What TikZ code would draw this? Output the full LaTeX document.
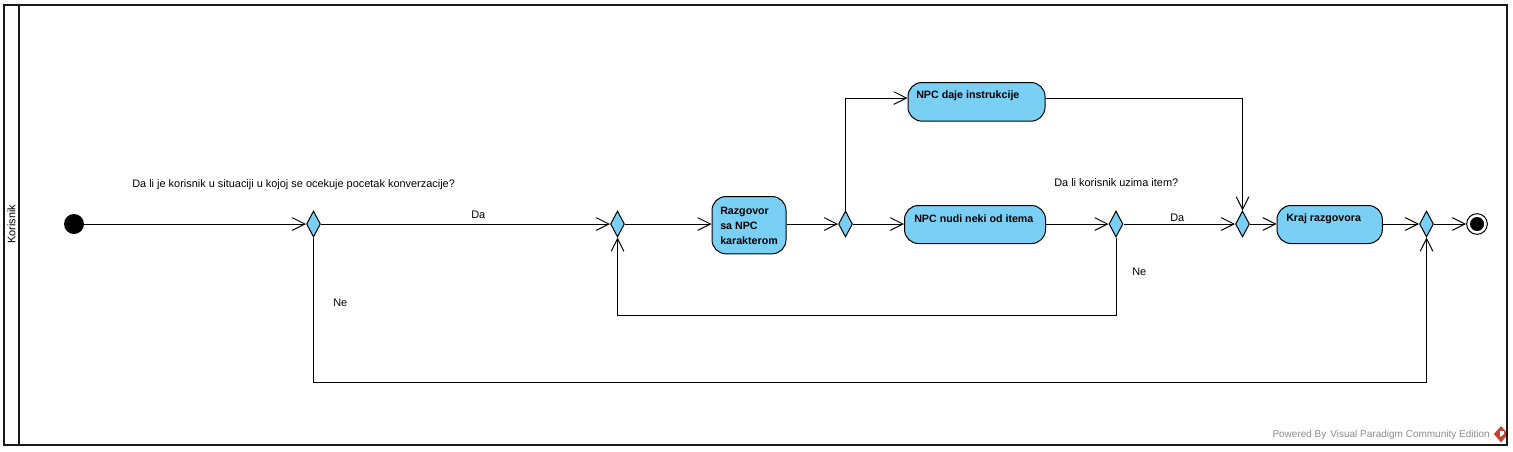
\documentclass[tikz,border=0pt]{standalone}
\usepackage{fontspec}
\setmainfont{Liberation Sans}
\usetikzlibrary{shapes.geometric,arrows.meta}
\definecolor{actblue}{HTML}{7ACFF5}
\definecolor{wmgrey}{HTML}{8C8C8C}
\definecolor{wmred}{HTML}{C8402F}
\tikzset{
  x=0.75pt,y=-0.75pt,
  frameline/.style={draw=black!90,line width=1.7pt},
  actbox/.style={draw=black,fill=actblue,rounded corners=10.5pt,line width=0.75pt,inner sep=0pt,anchor=north west},
  acttext/.style={font=\bfseries\fontsize{8}{11.25}\selectfont,align=left,anchor=west,inner sep=0pt},
  gate/.style={shape=diamond,draw=black,fill=actblue,line width=0.75pt,inner sep=0pt,minimum width=10.5pt,minimum height=19.5pt},
  lbl/.style={font=\fontsize{8.2}{10}\selectfont,anchor=west,inner sep=0pt},
  wmtext/.style={font=\fontsize{7.5}{9}\selectfont,anchor=east,inner sep=0pt,text=wmgrey},
  flow/.style={draw=black,line width=0.75pt,-{Straight Barb[length=9.5pt,width=9.5pt,line width=0.75pt]}}
}
\begin{document}
\begin{tikzpicture}
\useasboundingbox (0,0) rectangle (1513,451);
\fill[white] (0,0) rectangle (1513,451);
% frame
\draw[frameline] (4,5) rectangle (1507,445);
\draw[frameline] (19,5) -- (19,445);
\node[rotate=90,font=\fontsize{8.2}{10}\selectfont,inner sep=0pt] (lane) at (11.5,224) {Korisnik};
% start / end
\node[circle,fill=black,minimum size=15pt,inner sep=0pt] (start) at (74,224) {};
\node[circle,draw=black,fill=white,line width=0.75pt,minimum size=15.5pt,inner sep=0pt] (final) at (1477,224) {};
\node[circle,fill=black,minimum size=10.5pt,inner sep=0pt] (finalin) at (1477,224) {};
% gates
\node[gate] (d1) at (313.5,224) {};
\node[gate] (d2) at (617.5,224) {};
\node[gate] (d3) at (845.5,224) {};
\node[gate] (d4) at (1116,224) {};
\node[gate] (d5) at (1242.5,224) {};
\node[gate] (d6) at (1426.5,224) {};
% activities
\node[actbox,minimum width=55.5pt,minimum height=43pt] (raz) at (711.5,196) {};
\node[actbox,minimum width=105.75pt,minimum height=28.5pt] (nudi) at (904,205) {};
\node[actbox,minimum width=102.75pt,minimum height=29pt] (daje) at (907.5,82) {};
\node[actbox,minimum width=79pt,minimum height=28.5pt] (kraj) at (1276.5,205) {};
\node[acttext] (trz) at (720,225.5) {Razgovor\\sa NPC\\karakterom};
\node[acttext] (tnu) at (914,219) {NPC nudi neki od itema};
\node[acttext] (tda) at (916,96) {NPC daje instrukcije};
\node[acttext] (tkr) at (1286,219) {Kraj razgovora};
% waypoints
\coordinate (c1) at (313.5,382);
\coordinate (c2) at (1426.5,382);
\coordinate (c3) at (1116,315);
\coordinate (c4) at (617.5,315);
\coordinate (c5) at (845.5,98);
\coordinate (c6) at (1242.5,98);
% connectors
\draw[flow] (start) -- (d1);
\draw[flow] (d1) -- (d2);
\draw[flow] (d2) -- (raz.west |- d2);
\draw[flow] (raz.east |- d3) -- (d3);
\draw[flow] (d3) -- (nudi.west |- d3);
\draw[flow] (nudi.east |- d4) -- (d4);
\draw[flow] (d4) -- (d5);
\draw[flow] (d5) -- (kraj.west |- d5);
\draw[flow] (kraj.east |- d6) -- (d6);
\draw[flow] (d6) -- (final);
\draw[flow] (d3.north) -- (c5) -- (daje.west |- c5);
\draw[flow] (daje.east |- c6) -- (c6) -- (d5.north);
\draw[flow] (d4.south) -- (c3) -- (c4) -- (d2.south);
\draw[flow] (d1.south) -- (c1) -- (c2) -- (d6.south);
% labels
\node[lbl] (l1) at (132,184.5) {Da li je korisnik u situaciji u kojoj se ocekuje pocetak konverzacije?};
\node[lbl] (l2) at (471,214.5) {Da};
\node[lbl] (l3) at (333,302.5) {Ne};
\node[lbl] (l4) at (1054,182.5) {Da li korisnik uzima item?};
\node[lbl] (l5) at (1170,217.5) {Da};
\node[lbl] (l6) at (1132,271.5) {Ne};
% watermark
\node[wmtext] (wm) at (1490,434.5) {Powered By\hspace{3pt}Visual Paradigm Community Edition};
\fill[wmred] (1501,426) -- (1508,434) -- (1501,442.5) -- (1494,434) -- cycle;
\fill[white] (1500,431) -- (1504,431) -- (1504,434) -- (1500,437) -- cycle;
\draw[frameline] (1507,420) -- (1507,445) -- (1480,445);
\end{tikzpicture}
\end{document}
